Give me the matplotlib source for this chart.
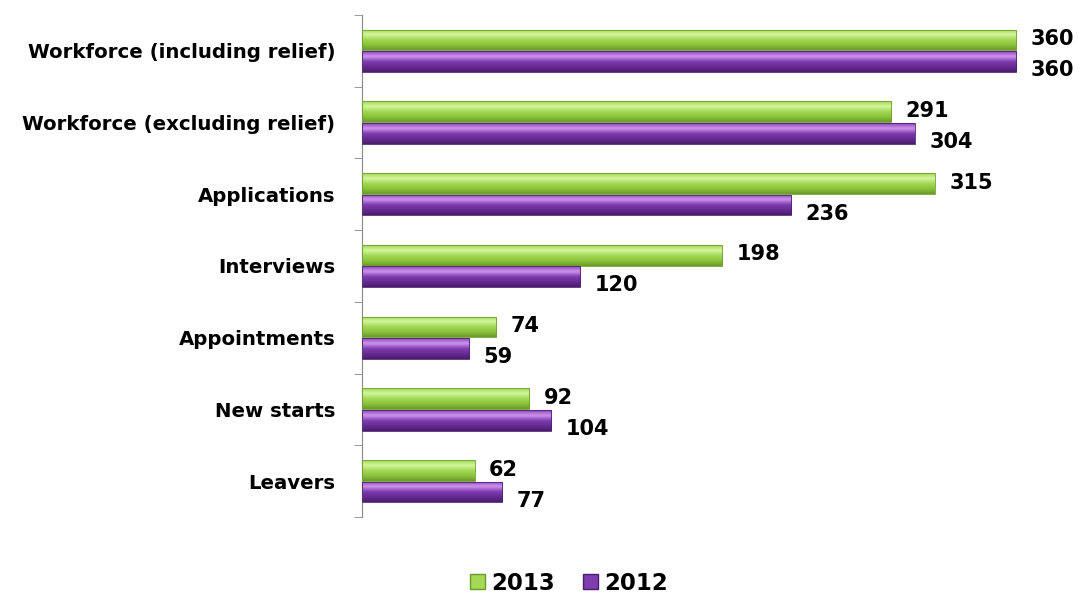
import numpy as np
import matplotlib.pyplot as plt
from matplotlib.patches import Patch
from matplotlib.colors import LinearSegmentedColormap

categories = ["Workforce (including relief)", "Workforce (excluding relief)",
              "Applications", "Interviews", "Appointments", "New starts", "Leavers"]
values_2013 = [360, 291, 315, 198, 74, 92, 62]
values_2012 = [360, 304, 236, 120, 59, 104, 77]
series_names = ["2013", "2012"]

green_shades = ["#6a9a28", "#8cc33c", "#a3d955", "#d4f6a0", "#a0d852"]
purple_shades = ["#4a1c6c", "#662b92", "#7f3db0", "#cf94ec", "#8a46bc"]

plt.rcParams['font.family'] = ['DejaVu Sans']
plt.rcParams['font.weight'] = 'bold'

fig = plt.figure(figsize=(10.8, 5.95), dpi=100)
ax = fig.add_axes([0.335, 0.131, 0.66, 0.844])

y = np.arange(len(categories))
h = 0.29
off = 0.15


def shade_bars(bars, shades):
    # vertical gradient inside each bar to give it a rounded look
    cmap = LinearSegmentedColormap.from_list("bar", shades[::-1])
    grad = np.linspace(0, 1, 64).reshape(-1, 1)
    for b in bars:
        x0, y0 = b.get_x(), b.get_y()
        w, hh = b.get_width(), b.get_height()
        im = ax.imshow(grad, cmap=cmap, aspect='auto', interpolation='bicubic',
                       extent=(x0, x0 + w, y0 + hh, y0), zorder=2)
        im.set_clip_path(b)
        b.set_facecolor('none')


bars13 = ax.barh(y - off, values_2013, height=h, color=green_shades[2],
                 edgecolor='#6e9f2c', linewidth=0.6, zorder=3)
bars12 = ax.barh(y + off, values_2012, height=h, color=purple_shades[2],
                 edgecolor='#4f1f72', linewidth=0.6, zorder=3)
shade_bars(bars13, green_shades)
shade_bars(bars12, purple_shades)

for yi, v in zip(y, values_2013):
    ax.text(v + 8, yi - off - 0.01, str(v), va='center', ha='left',
            fontsize=15, fontweight='bold', color='black')
for yi, v in zip(y, values_2012):
    ax.text(v + 8, yi + off + 0.12, str(v), va='center', ha='left',
            fontsize=15, fontweight='bold', color='black')

ax.set_xlim(0, 392)
ax.set_ylim(len(categories) - 0.5, -0.5)
ax.set_yticks(y)
ax.set_yticklabels(categories, fontsize=14.2, fontweight='bold')
ax.tick_params(axis='y', which='major', length=0, pad=19)
ax.set_yticks(np.arange(-0.5, len(categories)), minor=True)
ax.tick_params(axis='y', which='minor', length=6, color='#888888', direction='out')
ax.set_xticks([])
for side in ['top', 'right', 'bottom']:
    ax.spines[side].set_visible(False)
ax.spines['left'].set_color('#888888')

handles = [Patch(facecolor=green_shades[2], edgecolor=green_shades[0]),
           Patch(facecolor=purple_shades[2], edgecolor=purple_shades[0])]
fig.legend(handles, series_names, loc='center', bbox_to_anchor=(0.527, 0.02),
           ncol=2, frameon=False, handlelength=0.65, handleheight=0.65,
           handletextpad=0.3, columnspacing=1.2, prop={'weight': 'bold', 'size': 16.5})

fig.savefig("out.png", dpi=100)
